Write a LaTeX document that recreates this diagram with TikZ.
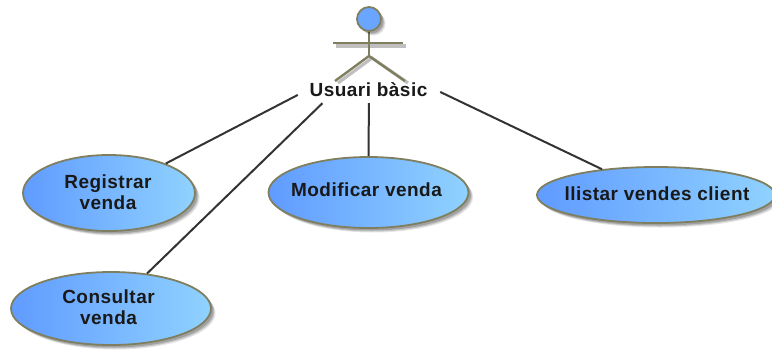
\documentclass[tikz,border=0pt]{standalone}
\usepackage{fontspec}
\setmainfont{Liberation Sans}[LetterSpace=2.5]
\usetikzlibrary{shapes.geometric,shadows}
\definecolor{umlborder}{HTML}{7F7F5F}
\definecolor{umlleft}{HTML}{609BFF}
\definecolor{umlright}{HTML}{90D2FF}
\definecolor{umlhead}{HTML}{6AA5FF}
\tikzset{
  softshadow/.style={
    general shadow={fill=black,opacity=.10,shadow xshift=4.5pt,shadow yshift=-4.5pt},
    general shadow={fill=black,opacity=.14,shadow xshift=3.5pt,shadow yshift=-3.5pt},
    general shadow={fill=black,opacity=.18,shadow xshift=2.5pt,shadow yshift=-2.5pt}},
  usecase/.style={ellipse,draw=umlborder,line width=1.8pt,left color=umlleft,right color=umlright,inner sep=0pt,softshadow},
  umltext/.style={font=\fontsize{19}{21}\selectfont\bfseries,text=black!90,align=center,inner sep=0pt},
  assoc/.style={draw=black!80,line width=2pt},
  limb/.style={draw=umlborder,line width=2.4pt},
  limbshadow/.style={draw=black!25,line width=3.2pt},
  actorbox/.style={rectangle,inner sep=0pt,minimum width=142pt,minimum height=90pt}
}
\begin{document}
\begin{tikzpicture}[x=1pt,y=-1pt]
\useasboundingbox (0,0) rectangle (772,349);
\clip (0,0) rectangle (772,349);
% named geometry
\node[actorbox] (actor) at (369,58) {};
\node[usecase,minimum width=172pt,minimum height=76pt] (reg) at (109,193) {};
\node[usecase,minimum width=200pt,minimum height=73pt] (con) at (111,308.5) {};
\node[usecase,minimum width=200pt,minimum height=71pt] (mod) at (368.5,192.5) {};
\node[usecase,minimum width=238pt,minimum height=56pt] (lli) at (656,195) {};
% associations
\draw[assoc] (actor) -- (reg);
\draw[assoc] (actor) -- (con);
\draw[assoc] (actor) -- (mod);
\draw[assoc] (actor) -- (lli);
% stick figure
\coordinate (neck) at (369,31);
\coordinate (hip) at (369,56);
\coordinate (arml) at (333,43);
\coordinate (armr) at (403,43);
\coordinate (legl) at (335,81);
\coordinate (legr) at (405,81);
\draw[limbshadow] ([shift={(3,3)}]arml) -- ([shift={(3,3)}]armr);
\draw[limbshadow] ([shift={(3,2)}]legl) -- ([shift={(3,2)}]hip) -- ([shift={(3,2)}]legr);
\draw[limb] (neck) -- (hip);
\draw[limb] (arml) -- (armr);
\draw[limb] (legl) -- (hip) -- (legr);
\node[circle,draw=umlborder,fill=umlhead,line width=1.8pt,minimum size=24pt,inner sep=0pt,softshadow] (head) at (369,19) {};
% texts
\node[umltext] (actorname) at (368.5,90) {Usuari bàsic};
\node[umltext] (regt) at (108,192) {Registrar\\venda};
\node[umltext] (cont) at (108.5,307.5) {Consultar\\venda};
\node[umltext] (modt) at (366.5,190) {Modificar venda};
\node[umltext] (llit) at (657,193.5) {llistar vendes client};
\end{tikzpicture}
\end{document}
